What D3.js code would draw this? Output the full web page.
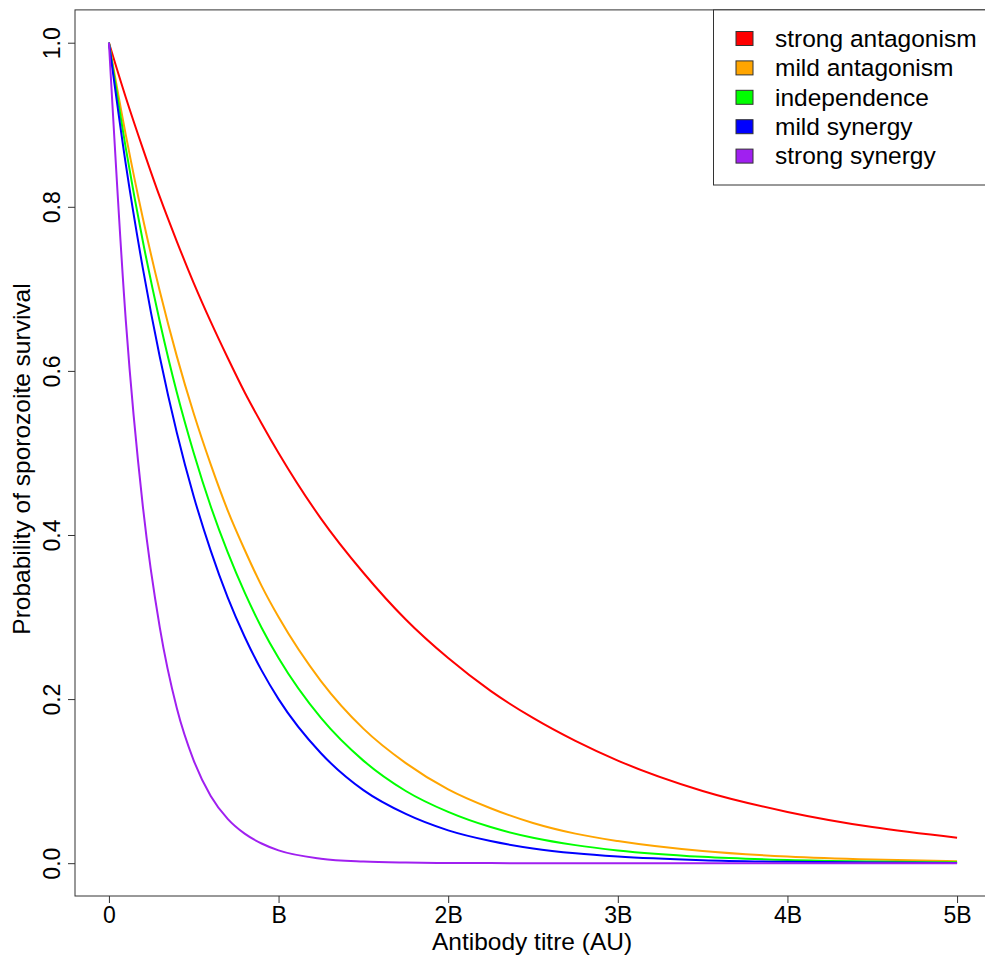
<!DOCTYPE html>
<html>
<head>
<meta charset="utf-8">
<script src="https://cdn.jsdelivr.net/npm/d3@7"></script>
<style>
  html, body { margin: 0; padding: 0; background: #fff; }
  svg { display: block; font-family: "Liberation Sans", Arial, sans-serif; }
</style>
</head>
<body>
<svg id="chart" width="985" height="960"></svg>
<script>
// Antibody titre in units of B
const titre = [0, 0.1, 0.2, 0.3, 0.4, 0.5, 0.6, 0.7, 0.8, 0.9, 1.0, 1.25, 1.5, 1.75, 2.0, 2.25, 2.5, 2.75, 3.0, 3.5, 4.0, 4.5, 5.0];

const strongAntagonism = [1, 0.933, 0.871, 0.812, 0.758, 0.707, 0.660, 0.616, 0.574, 0.536, 0.500, 0.420, 0.354, 0.297, 0.250, 0.210, 0.177, 0.149, 0.125, 0.088, 0.0625, 0.044, 0.031];
const mildAntagonism   = [1, 0.887, 0.786, 0.697, 0.618, 0.548, 0.486, 0.430, 0.382, 0.338, 0.300, 0.222, 0.164, 0.122, 0.090, 0.067, 0.049, 0.036, 0.027, 0.0148, 0.0081, 0.0044, 0.0024];
const independence     = [1, 0.871, 0.758, 0.660, 0.574, 0.500, 0.435, 0.379, 0.330, 0.287, 0.250, 0.177, 0.125, 0.088, 0.0625, 0.044, 0.031, 0.022, 0.0156, 0.0078, 0.0039, 0.0020, 0.0010];
const mildSynergy      = [1, 0.851, 0.725, 0.617, 0.525, 0.447, 0.381, 0.324, 0.276, 0.235, 0.200, 0.134, 0.089, 0.060, 0.040, 0.027, 0.018, 0.012, 0.008, 0.0036, 0.0016, 0.0007, 0.0003];
const strongSynergy    = [1, 0.660, 0.435, 0.287, 0.189, 0.125, 0.082, 0.054, 0.036, 0.024, 0.0156, 0.0055, 0.0020, 0.0007, 0.0002, 0.0001, 0, 0, 0, 0, 0, 0, 0];

const seriesNames  = ["strong antagonism", "mild antagonism", "independence", "mild synergy", "strong synergy"];
const seriesValues = [strongAntagonism, mildAntagonism, independence, mildSynergy, strongSynergy];
const seriesColors = ["#FF0000", "#FFA500", "#00FF00", "#0000FF", "#A020F0"];

const xTicks = [0, 1, 2, 3, 4, 5];
const xTickLabels = ["0", "B", "2B", "3B", "4B", "5B"];
const yTicks = [0, 0.2, 0.4, 0.6, 0.8, 1.0];
const yTickLabels = ["0.0", "0.2", "0.4", "0.6", "0.8", "1.0"];

const svg = d3.select("#chart");

// plot region (R style: 4% extension)
const x = d3.scaleLinear().domain([-0.2, 5.2]).range([75, 991]);
const y = d3.scaleLinear().domain([-0.04, 1.04]).range([896, 9.9]);

const axisColor = "#333";

// curves
const line = d3.line()
  .x((d, i) => x(titre[i]))
  .y(d => y(d))
  .curve(d3.curveMonotoneX);

const plotG = svg.append("g");
seriesValues.forEach((vals, k) => {
  plotG.append("path")
    .datum(vals)
    .attr("d", line)
    .attr("fill", "none")
    .attr("stroke", seriesColors[k])
    .attr("stroke-width", 2);
});

// box
svg.append("rect")
  .attr("x", x(-0.2)).attr("y", y(1.04))
  .attr("width", x(5.2) - x(-0.2)).attr("height", y(-0.04) - y(1.04))
  .attr("fill", "none").attr("stroke", axisColor).attr("stroke-width", 1);

// x axis
const xAxis = d3.axisBottom(x)
  .tickValues(xTicks)
  .tickFormat((d, i) => xTickLabels[i])
  .tickSizeInner(7).tickSizeOuter(0).tickPadding(4);
const gx = svg.append("g").attr("transform", `translate(0,${y(-0.04)})`).call(xAxis);
gx.select(".domain").remove();
gx.selectAll(".tick line").attr("stroke", axisColor);
gx.selectAll(".tick text")
  .attr("font-size", 23).attr("fill", "#000")
  .attr("font-family", "Liberation Sans, Arial, sans-serif")
  .attr("dy", null).attr("y", 26.5);

// y axis
const yAxis = d3.axisLeft(y)
  .tickValues(yTicks)
  .tickFormat((d, i) => yTickLabels[i])
  .tickSizeInner(7).tickSizeOuter(0);
const gy = svg.append("g").attr("transform", `translate(${x(-0.2)},0)`).call(yAxis);
gy.select(".domain").remove();
gy.selectAll(".tick line").attr("stroke", axisColor);
gy.selectAll(".tick text")
  .attr("font-size", 23).attr("fill", "#000")
  .attr("font-family", "Liberation Sans, Arial, sans-serif")
  .attr("x", null).attr("dy", null)
  .attr("text-anchor", "middle")
  .attr("transform", "translate(-15,0) rotate(-90)");

// axis titles
svg.append("text")
  .attr("x", (x(-0.2) + x(5.2)) / 2 - 1)
  .attr("y", 950)
  .attr("text-anchor", "middle")
  .attr("font-size", 24.5)
  .text("Antibody titre (AU)");

svg.append("text")
  .attr("transform", `translate(30,${459}) rotate(-90)`)
  .attr("text-anchor", "middle")
  .attr("font-size", 24.5)
  .text("Probability of sporozoite survival");

// legend
const lg = svg.append("g");
lg.append("rect")
  .attr("x", 713.5).attr("y", 9.9)
  .attr("width", 991 - 713.5).attr("height", 185 - 9.9)
  .attr("fill", "#fff").attr("stroke", axisColor).attr("stroke-width", 1);
seriesNames.forEach((name, k) => {
  const cy = 38.5 + k * 29.4;
  lg.append("rect")
    .attr("x", 736).attr("y", cy - 7)
    .attr("width", 17).attr("height", 14)
    .attr("fill", seriesColors[k]).attr("stroke", "#333").attr("stroke-width", 1);
  lg.append("text")
    .attr("x", 775).attr("y", cy + 8.3)
    .attr("font-size", 24.5)
    .text(name);
});
</script>
</body>
</html>
